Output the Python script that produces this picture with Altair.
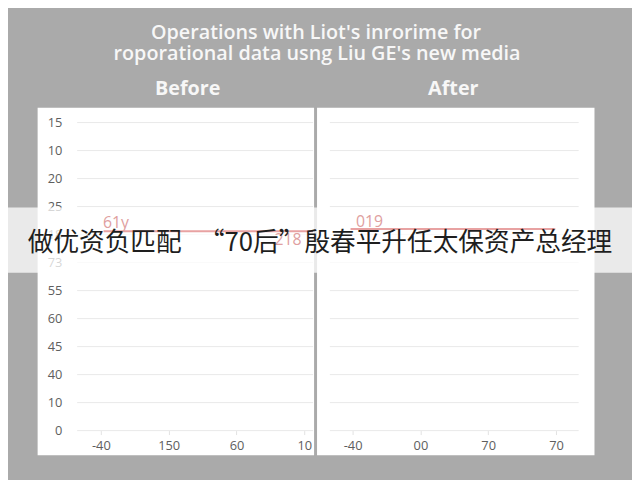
import altair as alt
import pandas as pd

# ---------------- data ----------------
title_lines = ["Operations with Liot's inrorime for",
               "roporational data usng Liu GE's new media"]
panel_titles = ["Before", "After"]
banner_text = ["做优资负匹配\u00a0\u00a0\u00a0“70后”殷春平升任太保资产总经理"]

# y tick labels, top to bottom
y_tick_labels = ["15", "10", "20", "25", "18", "73", "55", "60", "45", "40", "10", "0"]
x_tick_labels_before = ["-40", "150", "60", "10"]
x_tick_labels_after = ["-40", "00", "70", "70"]

before_line_x = [0.04, 3.13]
before_line_y = [7.12, 7.12]
after_line_x = [-0.03, 2.99]
after_line_y = [7.2, 7.2]

before_labels = ["61y", "218"]
before_label_x = [0.03, 2.56]
before_label_y = [7.42, 6.8]
after_labels = ["019"]
after_label_x = [0.05]
after_label_y = [7.45]

# ---------------- scales ----------------
W, H = 632, 472
xL_dom = [-0.35, 3.13]
xR_dom = [-0.335, 3.335]
xL = alt.Scale(domain=xL_dom, range=[70, 309], nice=False, zero=False)
xR = alt.Scale(domain=xR_dom, range=[326, 578], nice=False, zero=False)
yS = alt.Scale(domain=[0, 11], range=[425, 113], nice=False, zero=False)

BG = "#aaaaaa"
GRID = "#e9e9e9"
LBL = "#5e5e5e"
RED = "#e8a2a2"
RED_TXT = "#e0a0a0"
FONT = "Open Sans"

n = len(y_tick_labels)
idx = list(range(n))
ylab_df = pd.DataFrame({"i": [n - 1 - k for k in range(n)], "lab": y_tick_labels})
gridL = pd.DataFrame({"i": idx, "x0": xL_dom[0], "x1": xL_dom[1]})
gridR = pd.DataFrame({"i": idx, "x0": xR_dom[0], "x1": xR_dom[1]})


def label_expr(labels):
    arr = ",".join("'%s'" % s for s in labels)
    return "[" + arr + "][round(datum.value)]"


def x_axis(labels):
    return alt.Axis(orient="bottom", values=list(range(len(labels))),
                    labelExpr=label_expr(labels), grid=False, domain=False,
                    ticks=True, tickSize=4, tickColor="#e2e2e2", labelPadding=5,
                    labelColor=LBL, labelFontSize=13, labelFont=FONT,
                    offset=-47, zindex=1, title=None)


one = pd.DataFrame({"k": [0]})

panels = alt.Chart(pd.DataFrame({"p": panel_titles})).mark_rect(color="white").encode(
    x=alt.value(30), x2=alt.value(310), y=alt.value(98), y2=alt.value(450)
).transform_filter(alt.datum.p == "Before")
panelR = alt.Chart(pd.DataFrame({"p": panel_titles})).mark_rect(color="white").encode(
    x=alt.value(313), x2=alt.value(594), y=alt.value(98), y2=alt.value(450)
).transform_filter(alt.datum.p == "After")

grid_left = alt.Chart(gridL).mark_rule(color=GRID, strokeWidth=1).encode(
    x=alt.X("x0:Q", scale=xL, axis=x_axis(x_tick_labels_before)),
    x2="x1:Q",
    y=alt.Y("i:Q", scale=yS, axis=None),
)
grid_right = alt.Chart(gridR).mark_rule(color=GRID, strokeWidth=1).encode(
    x=alt.X("x0:Q", scale=xR, axis=x_axis(x_tick_labels_after)),
    x2="x1:Q",
    y=alt.Y("i:Q", scale=yS, axis=None),
)

ylabels = alt.Chart(ylab_df).mark_text(align="right", baseline="middle", fontSize=13,
                                       font=FONT, color=LBL).encode(
    x=alt.value(55),
    y=alt.Y("i:Q", scale=yS, axis=None),
    text="lab:N",
)

line_left = alt.Chart(pd.DataFrame({"x": before_line_x, "y": before_line_y})).mark_line(
    color=RED, strokeWidth=2).encode(
    x=alt.X("x:Q", scale=xL, axis=None), y=alt.Y("y:Q", scale=yS, axis=None))
line_right = alt.Chart(pd.DataFrame({"x": after_line_x, "y": after_line_y})).mark_line(
    color=RED, strokeWidth=2).encode(
    x=alt.X("x:Q", scale=xR, axis=None), y=alt.Y("y:Q", scale=yS, axis=None))

lab_left = alt.Chart(pd.DataFrame({"x": before_label_x, "y": before_label_y,
                                   "t": before_labels})).mark_text(
    align="left", baseline="middle", fontSize=16, font=FONT, color=RED_TXT).encode(
    x=alt.X("x:Q", scale=xL, axis=None), y=alt.Y("y:Q", scale=yS, axis=None), text="t:N")
lab_right = alt.Chart(pd.DataFrame({"x": after_label_x, "y": after_label_y,
                                    "t": after_labels})).mark_text(
    align="left", baseline="middle", fontSize=16, font=FONT, color=RED_TXT).encode(
    x=alt.X("x:Q", scale=xR, axis=None), y=alt.Y("y:Q", scale=yS, axis=None), text="t:N")

t1 = alt.Chart(pd.DataFrame({"t": [title_lines[0]]})).mark_text(
    align="center", baseline="middle", fontSize=20, fontWeight=600, font=FONT,
    color="#f7f7f7").encode(x=alt.value(312), y=alt.value(22), text="t:N")
t2 = alt.Chart(pd.DataFrame({"t": [title_lines[1]]})).mark_text(
    align="center", baseline="middle", fontSize=20, fontWeight=600, font=FONT,
    color="#f7f7f7").encode(x=alt.value(313), y=alt.value(44), text="t:N")
st1 = alt.Chart(pd.DataFrame({"t": [panel_titles[0]]})).mark_text(
    align="center", baseline="middle", fontSize=20, fontWeight="bold", font=FONT,
    color="#f7f7f7").encode(x=alt.value(182), y=alt.value(79), text="t:N")
st2 = alt.Chart(pd.DataFrame({"t": [panel_titles[1]]})).mark_text(
    align="center", baseline="middle", fontSize=20, fontWeight="bold", font=FONT,
    color="#f7f7f7").encode(x=alt.value(451), y=alt.value(79), text="t:N")

banner = alt.Chart(one).mark_rect(color="white", opacity=0.75).encode(
    x=alt.value(0), x2=alt.value(W), y=alt.value(199), y2=alt.value(265))
banner_t = alt.Chart(pd.DataFrame({"t": banner_text})).mark_text(
    align="center", baseline="middle", fontSize=26, font="Noto Sans CJK SC",
    color="#1e1e1e").encode(x=alt.value(316), y=alt.value(235), text="t:N")

chart = alt.layer(
    panels, panelR, grid_left, grid_right, ylabels,
    t1, t2, st1, st2, banner,
    line_left, line_right, lab_left, lab_right, banner_t,
).resolve_scale(x="independent").resolve_axis(x="independent").properties(
    width=W, height=H, padding=0,
    autosize=alt.AutoSizeParams(type="none"),
    background=BG,
).configure_view(stroke=None)

chart.save("out.html", embed_options={"renderer": "svg", "actions": False})
